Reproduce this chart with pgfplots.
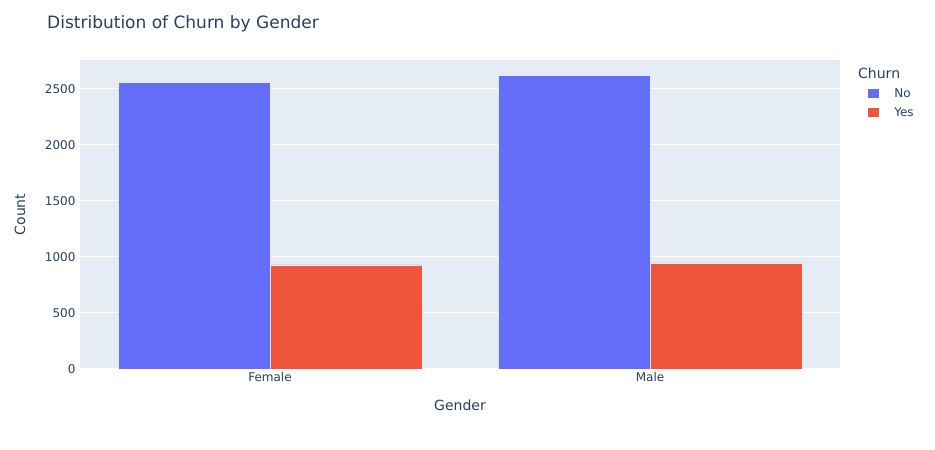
\documentclass[border=0pt]{standalone}
\usepackage{pgfplots}
\pgfplotsset{compat=1.18}
\usepackage{fontspec}
\setmainfont{DejaVu Sans}
\definecolor{bgc}{HTML}{E5ECF6}
\definecolor{txt}{HTML}{2A3F5F}
\definecolor{cno}{HTML}{636EFA}
\definecolor{cyes}{HTML}{EF553B}
\begin{document}
\begin{tikzpicture}
\fill[white] (0,0) rectangle (935pt,450pt);
\begin{axis}[
  at={(80pt,81pt)}, anchor=south west,
  scale only axis, width=760pt, height=309pt,
  xmin=-0.5, xmax=1.5, ymin=0, ymax=2757,
  clip mode=individual,
  axis background/.style={fill=bgc},
  axis line style={draw=none},
  ybar, bar width=0.4,
  xtick={0,1}, xticklabels={Female,Male},
  ytick={0,500,...,2500},
  ymajorgrids, grid style={white, line width=1pt},
  major tick length=0pt,
  tick label style={font=\fontsize{12}{14}\selectfont, text=txt},
  yticklabel style={xshift=-1pt},
  /pgf/number format/assume math mode=true,
  /pgf/number format/1000 sep={},
  xlabel=Gender, ylabel=Count,
  xlabel style={at={(axis description cs:0.5,-0.1165)}, anchor=center, font=\fontsize{14}{16}\selectfont, text=txt},
  ylabel style={at={(axis description cs:-0.079,0.5)}, anchor=center, font=\fontsize{14}{16}\selectfont, text=txt},
  legend style={at={(axis description cs:1.037,0.915)}, anchor=north west, draw=none, fill=none,
    font=\fontsize{12}{14}\selectfont, text=txt, row sep=5pt, inner sep=0pt,
    nodes={inner sep=2pt}},
  legend cell align=left,
]
\addplot[fill=cno, draw=bgc, line width=0.5pt, bar shift=-0.2,
  legend image code/.code={\path[fill=cno, draw=none] (0pt,-4.5pt) rectangle (11pt,4.5pt); \path[draw=none, fill=none] (0pt,0pt) -- (24pt,0pt);}]
  coordinates {(0,2560) (1,2620)};
\addplot[fill=cyes, draw=bgc, line width=0.5pt, bar shift=0.2,
  legend image code/.code={\path[fill=cyes, draw=none] (0pt,-4.5pt) rectangle (11pt,4.5pt); \path[draw=none, fill=none] (0pt,0pt) -- (24pt,0pt);}]
  coordinates {(0,930) (1,946)};
\legend{No,Yes}
\node[anchor=west, font=\fontsize{17}{20}\selectfont, text=txt, inner sep=0pt] at (axis description cs:-0.0434,1.1165) {Distribution of Churn by Gender};
\node[anchor=west, font=\fontsize{14}{16}\selectfont, text=txt, inner sep=0pt] at (axis description cs:1.0237,0.958) {Churn};
\end{axis}
\end{tikzpicture}
\end{document}
